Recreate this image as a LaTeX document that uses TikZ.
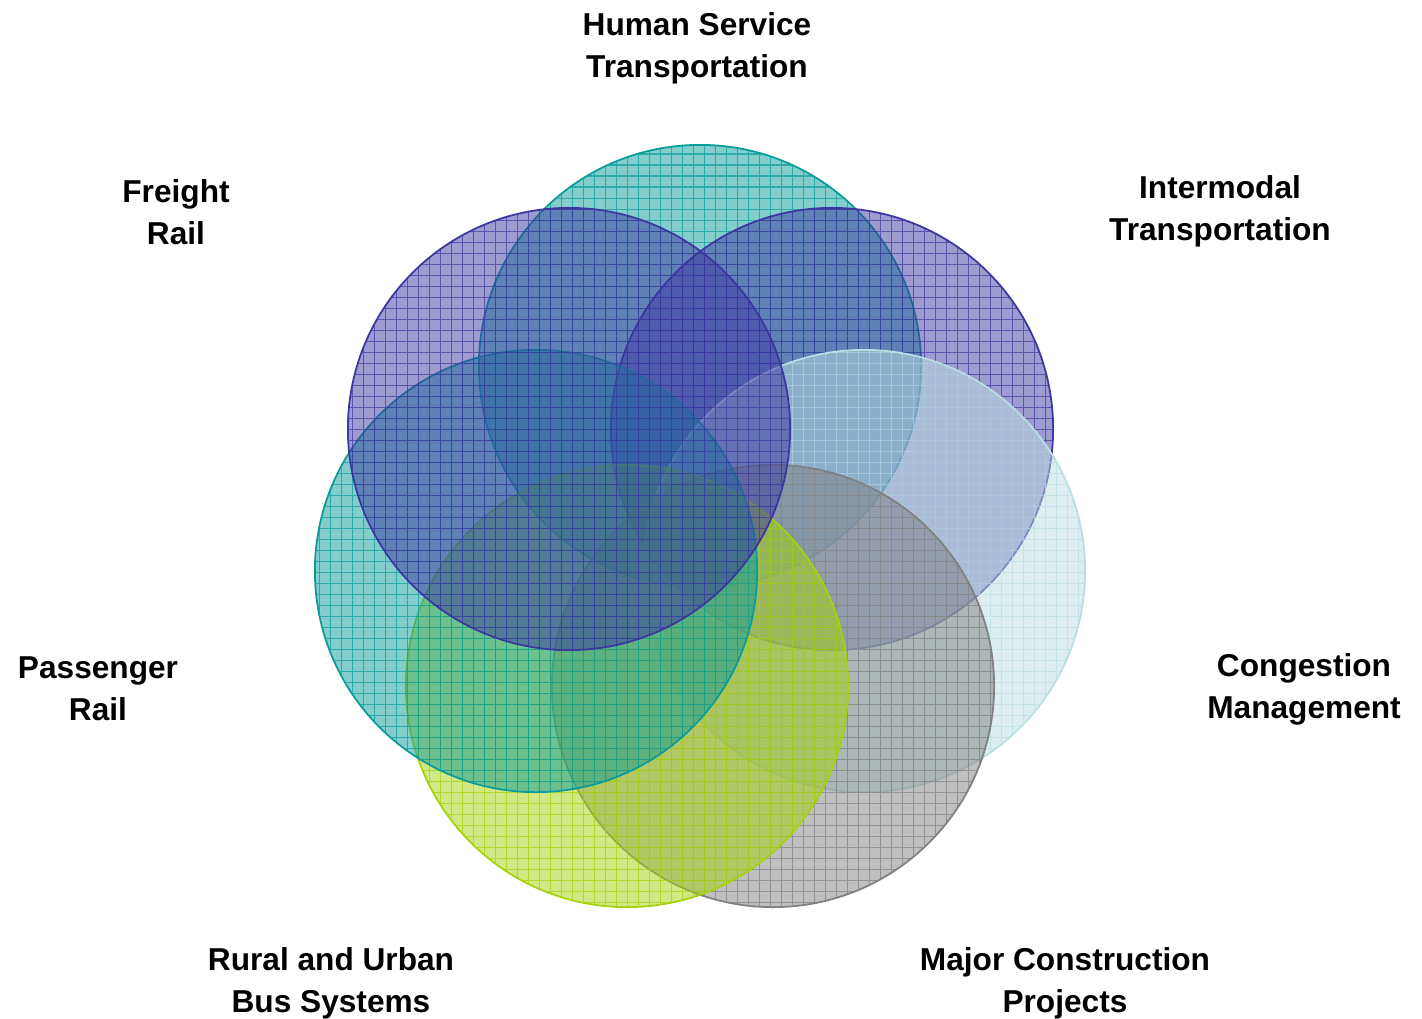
\documentclass[tikz,border=0pt]{standalone}
\usepackage{fontspec}
\setmainfont{Liberation Sans}
\usetikzlibrary{positioning, calc}

\definecolor{tealc}{RGB}{10,155,155}
\definecolor{purplec}{RGB}{60,55,160}
\definecolor{paleblue}{RGB}{185,222,226}
\definecolor{limec}{RGB}{165,210,10}
\definecolor{greyc}{RGB}{128,128,128}

\tikzset{
  ring/.style={draw=#1, line width=0.5pt, fill=#1, fill opacity=0.5,
    path picture={\draw[#1, line width=0.35pt, draw opacity=0.7, step=0.11cm]
      (path picture bounding box.south west) grid (path picture bounding box.north east);}},
  tag/.style={font=\fontsize{9}{11.95}\selectfont\bfseries, align=center},
}

\begin{document}
\begin{tikzpicture}[x=0.01cm, y=-0.01cm]
  \useasboundingbox (0,0) rectangle (1422,1018);

  % Centres of the circles
  \coordinate (human) at (700,366);
  \coordinate (freight) at (569,429);
  \coordinate (intermodal) at (832,429);
  \coordinate (passenger) at (536,571);
  \coordinate (congestion) at (864,571);
  \coordinate (rural) at (627,686);
  \coordinate (major) at (773,686);

  % Draw the circles
  \path[ring=tealc] (human) circle (2.21cm);
  \path[ring=purplec] (intermodal) circle (2.21cm);
  \path[ring=paleblue] (congestion) circle (2.21cm);
  \path[ring=greyc] (major) circle (2.21cm);
  \path[ring=limec] (rural) circle (2.21cm);
  \path[ring=tealc] (passenger) circle (2.21cm);
  \path[ring=purplec] (freight) circle (2.21cm);

  % Labels
  \node[tag] (humanlbl) at (697,48) {Human Service\\Transportation};
  \node[tag] (freightlbl) at (176,212) {Freight\\Rail};
  \node[tag] (intermodallbl) at (1220,211) {Intermodal\\Transportation};
  \node[tag] (passengerlbl) at (98,689) {Passenger\\Rail};
  \node[tag] (congestionlbl) at (1304,689) {Congestion\\Management};
  \node[tag] (rurallbl) at (331,983) {Rural and Urban\\Bus Systems};
  \node[tag] (majorlbl) at (1065,983) {Major Construction\\Projects};
\end{tikzpicture}
\end{document}
